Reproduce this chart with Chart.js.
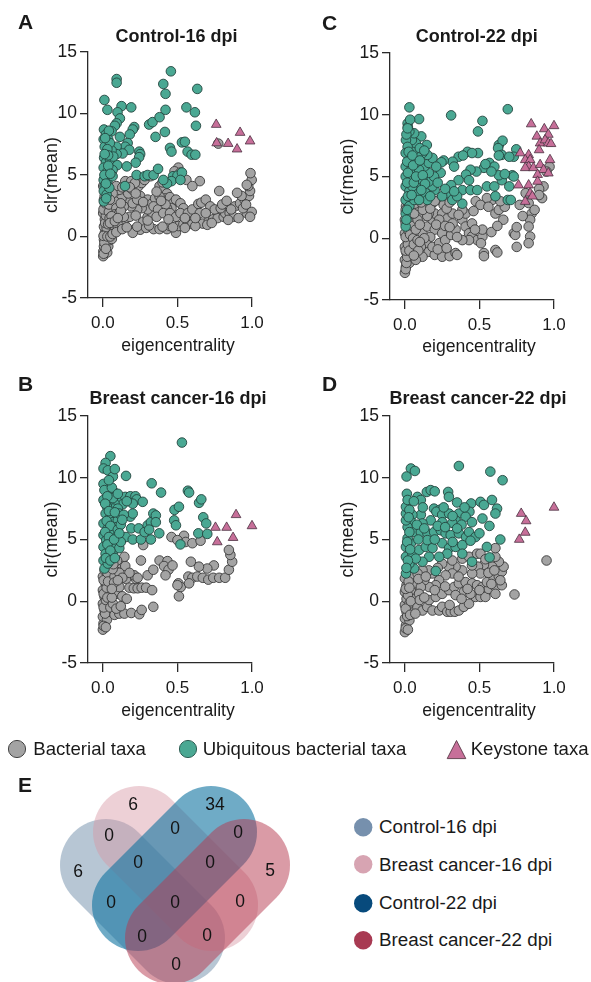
<!DOCTYPE html>
<html><head><meta charset="utf-8">
<script src="https://cdn.jsdelivr.net/npm/chart.js@4.4.1/dist/chart.umd.min.js"></script>
<style>
html,body{margin:0;padding:0;background:#fff;}
#wrap{position:relative;width:591px;height:982px;overflow:hidden;font-family:'Liberation Sans',Arial,Helvetica,sans-serif;color:#1a1a1a;}
canvas{position:absolute;}
svg{position:absolute;overflow:visible;}
.t{position:absolute;white-space:nowrap;line-height:1;transform:translate(-50%,-50%);}
.l{position:absolute;white-space:nowrap;line-height:1;transform:translate(0,-50%);}
.b{font-weight:bold;}
.let{font-size:21px;font-weight:bold;}
.ttl{font-size:18px;font-weight:bold;}
.xt{font-size:17.6px;}
.lg{font-size:18.6px;}
.vl{font-size:18.8px;}
</style></head><body>
<div id="wrap">
<canvas id="cA" width="300" height="360" style="left:0;top:0"></canvas>
<canvas id="cC" width="291" height="362" style="left:300px;top:0"></canvas>
<canvas id="cB" width="300" height="340" style="left:0;top:365px"></canvas>
<canvas id="cD" width="291" height="340" style="left:300px;top:365px"></canvas>
<canvas id="cV" width="350" height="212" style="left:0;top:770px"></canvas>

<div class="t let" style="left:25.5px;top:21px">A</div>
<div class="t let" style="left:329.5px;top:21.5px">C</div>
<div class="t let" style="left:25.5px;top:383px">B</div>
<div class="t let" style="left:329.5px;top:383px">D</div>
<div class="t let" style="left:25px;top:783.5px">E</div>

<div class="t ttl" id="tA" style="left:176.5px;top:35.5px"></div>
<div class="t ttl" id="tC" style="left:476.7px;top:35.5px"></div>
<div class="t ttl" id="tB" style="left:178px;top:398.3px"></div>
<div class="t ttl" id="tD" style="left:478px;top:398.3px"></div>

<div class="t xt xtitle" style="left:178px;top:345.6px"></div>
<div class="t xt xtitle" style="left:479px;top:346.5px"></div>
<div class="t xt xtitle" style="left:178px;top:710.5px"></div>
<div class="t xt xtitle" style="left:479px;top:710.5px"></div>

<svg style="left:8px;top:740px" width="18" height="18"><circle cx="9" cy="9" r="8.6" fill="#a3a3a3" stroke="#444" stroke-width="1"/></svg>
<div class="l lg" id="lg0" style="left:33.3px;top:748.5px"></div>
<svg style="left:179px;top:740px" width="18" height="18"><circle cx="9" cy="9" r="8.6" fill="#4aa893" stroke="#2f5f55" stroke-width="1"/></svg>
<div class="l lg" id="lg1" style="left:202.7px;top:748.5px"></div>
<svg style="left:447px;top:740px" width="19" height="19"><polygon points="9.5,0.5 18.8,18.6 0.2,18.6" fill="#c76f99" stroke="#5a3a48" stroke-width="0.9"/></svg>
<div class="l lg" id="lg2" style="left:470.7px;top:748.5px"></div>

<svg style="left:353.5px;top:817.5px" width="18.4" height="18.4"><circle cx="9.2" cy="9.2" r="9.2" fill="#7690ad"/></svg>
<svg style="left:353.5px;top:855px" width="18.4" height="18.4"><circle cx="9.2" cy="9.2" r="9.2" fill="#d7a4b2"/></svg>
<svg style="left:353.5px;top:893.5px" width="18.4" height="18.4"><circle cx="9.2" cy="9.2" r="9.2" fill="#074a7c"/></svg>
<svg style="left:353.5px;top:930.5px" width="18.4" height="18.4"><circle cx="9.2" cy="9.2" r="9.2" fill="#a83a52"/></svg>
<div class="l vl" id="vl0" style="left:379px;top:827px"></div>
<div class="l vl" id="vl1" style="left:379px;top:864.5px"></div>
<div class="l vl" id="vl2" style="left:379px;top:903px"></div>
<div class="l vl" id="vl3" style="left:379px;top:940px"></div>
</div>

<script>
// ---------------- DATA ----------------
const panelTitles = ['Control-16 dpi', 'Control-22 dpi', 'Breast cancer-16 dpi', 'Breast cancer-22 dpi'];
const seriesNames = ['Bacterial taxa', 'Ubiquitous bacterial taxa', 'Keystone taxa'];
const xAxisTitle = 'eigencentrality';
const yAxisTitle = 'clr(mean)';
const xTicks = [0, 0.5, 1.0];
const yTicks = [-5, 0, 5, 10, 15];

// Control-16 dpi
const c16Bact = [[0.002,-1.6],[0.003,-1.2],[0.007,-0.8],[0.007,-0.25],[0.013,0.3],[0.007,0.8],[0.013,1.4],[0.002,1.9],[0.013,2.45],[0.007,3.0],[0.025,3.5],[0.002,4.1],[0.02,4.6],[0.029,-1.3],[0.036,-0.8],[0.043,-0.3],[0.029,0.27],[0.025,0.7],[0.005,-1.4],[0.01,-0.5],[0.004,0.05],[0.015,1.1],[0.02,1.7],[0.004,2.2],[0.016,2.7],[0.012,3.3],[0.015,3.9],[0.02,-1.0],[0.03,0.0],[0.035,1.0],[0.04,2.0],[0.04,2.6],[0.045,1.5],[0.03,4.3],[0.05,3.8],
[0.06,-0.2],[0.07,0.3],[0.08,0.55],[0.10,0.8],[0.12,1.1],[0.15,1.4],[0.18,1.6],[0.21,0.55],[0.25,0.55],[0.2,0.3],[0.27,1.2],[0.3,1.6],[0.33,1.9],[0.3,2.2],[0.26,2.3],[0.23,2.2],[0.19,2.45],[0.16,3.0],[0.125,3.1],[0.08,2.85],[0.09,2.3],[0.08,1.8],[0.11,1.9],[0.14,2.45],[0.17,3.5],[0.2,3.8],[0.24,4.1],[0.26,4.35],[0.28,4.6],[0.32,4.9],[0.15,4.5],[0.11,3.8],[0.09,4.1],[0.065,3.5],[0.047,3.0],[0.058,1.65],[0.047,1.1],[0.08,1.25],[0.19,4.5],[0.215,4.35],[0.25,3.3],[0.3,3.0],[0.33,2.7],[0.35,3.1],[0.34,2.45],[0.37,2.2],
[0.05,0.0],[0.065,0.2],[0.09,0.35],[0.13,0.6],[0.16,0.75],[0.23,0.8],[0.14,1.6],[0.12,2.1],[0.1,1.5],[0.22,1.7],[0.2,2.7],[0.13,4.0],[0.18,4.0],[0.23,3.0],[0.27,2.8],[0.22,3.5],[0.12,2.7],
[0.38,4.1],[0.405,3.8],[0.43,3.5],[0.42,3.1],[0.44,2.85],[0.38,3.25],[0.36,3.65],[0.45,3.2],[0.47,2.7],[0.46,2.3],[0.43,2.3],[0.49,3.0],[0.52,2.7],[0.54,2.3],[0.506,5.6],[0.48,5.3],[0.56,4.6],[0.65,4.5],[0.6,4.1],[0.52,5.2],[0.4,4.4],[0.42,2.6],[0.39,2.9],
[0.29,0.7],[0.34,0.6],[0.38,0.6],[0.43,0.6],[0.45,0.85],[0.49,0.3],[0.506,0.85],[0.54,1.0],[0.57,1.05],[0.6,1.0],[0.64,1.1],[0.67,1.05],[0.71,1.25],[0.74,1.4],[0.77,1.5],[0.81,1.6],[0.82,1.9],[0.85,1.9],[0.875,1.6],[0.885,2.45],[0.92,2.7],[0.95,3.0],[0.98,3.3],[0.987,3.7],[0.975,4.1],[0.998,4.6],[0.99,5.15],[0.965,4.2],[0.93,3.3],[0.9,3.55],[0.965,1.9],[0.998,2.0],[0.987,1.6],[0.91,1.5],
[0.36,1.6],[0.405,1.9],[0.45,1.9],[0.49,1.6],[0.52,1.9],[0.57,1.9],[0.6,2.2],[0.64,2.65],[0.66,2.75],[0.69,3.0],[0.72,2.45],[0.75,2.2],[0.79,2.3],[0.78,3.7],[0.65,1.9],[0.69,1.9],[0.774,7.55],
[0.31,0.9],[0.4,0.8],[0.47,0.75],[0.55,0.7],[0.62,0.85],[0.7,0.95],[0.73,1.1],[0.84,1.35],[0.86,2.2],[0.94,2.3],[0.96,2.6],[0.8,2.6],[0.83,2.9],[0.62,1.5],[0.55,1.5],[0.44,1.4],[0.3,1.3]];
const c16Ubiq = [[0.456,13.43],[0.092,12.8],[0.092,12.5],[0.405,12.4],[0.42,11.6],[0.633,12.0],[0.01,11.1],[0.03,10.3],[0.125,10.6],[0.19,10.5],[0.42,10.3],[0.56,10.5],[0.617,10.1],[0.098,10.1],[0.114,9.6],[0.092,9.2],[0.08,9.0],[0.31,9.1],[0.333,9.3],[0.38,9.7],[0.624,9.0],[0.21,8.9],[0.2,8.7],[0.058,8.55],[0.114,8.1],[0.18,8.3],[0.353,8.1],[0.416,8.5],
[0.166,7.6],[0.15,7.3],[0.092,7.3],[0.177,7.05],[0.45,7.2],[0.46,6.9],[0.53,7.65],[0.55,7.7],[0.568,6.9],[0.595,6.65],[0.62,6.65],[0.244,6.9],[0.25,6.7],[0.243,6.45],[0.132,6.75],[0.092,6.7],[0.22,6.0],[0.096,5.8],[0.16,5.7],[0.065,5.4],[0.226,5.0],[0.28,4.9],[0.3,5.0],[0.34,5.0],[0.37,5.5],[0.47,4.9],[0.5,4.95],[0.53,5.2],[0.46,4.5],[0.52,4.6],[0.43,4.3],[0.405,4.6],[0.148,4.1],
[0.007,8.7],[0.02,8.3],[0.005,7.9],[0.036,7.9],[0.012,7.3],[0.028,6.9],[0.008,6.4],[0.02,6.0],[0.005,5.6],[0.025,5.2],[0.005,4.6],[0.03,4.5],[0.012,4.1],[0.006,3.7],[0.025,3.4],[0.006,2.85],[0.047,6.25],[0.058,7.0],[0.047,7.6],[0.04,8.6],[0.07,6.5],[0.065,4.9],[0.036,5.75],[0.043,3.95],[0.015,8.0],[0.03,7.1],[0.01,5.0],[0.02,4.3],[0.035,6.6],[0.012,6.7],[0.05,5.1],[0.022,3.1]];
const c16Key = [[0.76,9.1],[0.763,7.6],[0.84,7.55],[0.9,7.1],[0.92,8.45],[0.987,7.75]];

// Control-22 dpi
const c22Bact = [[0.0,-2.8],[0.007,-2.3],[0.0,-1.75],[0.011,-1.2],[0.0,-0.7],[0.018,-0.15],[0.0,0.4],[0.011,0.95],[0.0,1.5],[0.018,2.0],[0.007,2.6],[0.03,-2.0],[0.04,-1.5],[0.05,-0.8],[0.073,-1.2],[0.04,-0.15],[0.005,-2.5],[0.01,-2.0],[0.015,-1.5],[0.005,-1.0],[0.02,-0.5],[0.005,0.1],[0.025,0.6],[0.005,1.2],[0.03,1.7],[0.005,2.3],[0.02,2.9],[0.03,-1.0],[0.035,0.3],[0.04,1.2],[0.045,2.4],[0.055,0.0],[0.06,-0.5],[0.055,1.0],
[0.085,-0.15],[0.118,0.4],[0.15,0.95],[0.185,1.5],[0.2,2.0],[0.16,2.0],[0.118,1.75],[0.085,1.5],[0.073,0.7],[0.062,2.0],[0.095,2.6],[0.14,2.6],[0.185,2.85],[0.23,3.1],[0.26,2.7],[0.25,2.0],[0.285,1.6],[0.23,1.5],[0.2,0.7],[0.25,0.4],[0.17,0.1],[0.14,-0.4],[0.107,-0.7],[0.16,-1.1],[0.2,-1.35],[0.25,-1.5],[0.3,-1.45],[0.34,-1.2],[0.35,-1.35],[0.118,-1.5],[0.073,-1.75],[0.185,-0.7],[0.23,-0.4],[0.27,-0.15],[0.31,0.27],[0.34,0.7],[0.32,1.2],[0.385,1.5],[0.407,0.95],[0.43,0.4],[0.45,0.14],[0.485,-0.15],[0.52,0.14],[0.43,-0.15],[0.385,-0.15],[0.407,2.0],[0.385,2.3],[0.52,0.7],[0.51,-0.4],[0.53,-1.2],[0.53,-1.45],[0.607,-0.95],[0.62,-1.15],[0.607,2.0],[0.63,2.3],[0.67,2.55],[0.66,1.5],[0.585,3.1],[0.64,3.0],[0.55,3.25],[0.73,0.4],[0.74,0.27],[0.75,-0.7],[0.81,3.65],[0.83,2.85],[0.85,2.0],[0.84,1.5],[0.83,0.95],[0.84,0.14],[0.83,-0.4],[0.87,2.3],[0.92,3.25],[0.93,4.2],[0.97,5.8],[0.95,5.4],[0.9,4.0],[0.32,2.0],[0.475,3.0],[0.507,2.7],[0.56,2.55],
[0.1,1.1],[0.13,0.0],[0.09,-1.0],[0.15,1.8],[0.12,2.3],[0.21,1.1],[0.17,2.4],[0.27,1.0],[0.22,-0.9],[0.28,-0.8],[0.35,0.1],[0.3,0.9],[0.36,1.9],[0.28,2.4],[0.45,1.2],[0.47,0.7],[0.1,-0.3],[0.06,-1.4],[0.065,2.8],[0.11,2.9],[0.2,3.0],[0.3,2.9],[0.46,2.2],[0.58,0.5],[0.75,0.9],[0.79,1.8],[0.77,2.7],[0.9,3.5],[0.62,1.0]];
const c22Ubiq = [[0.03,10.6],[0.69,10.45],[0.31,9.95],[0.52,9.5],[0.49,8.65],[0.095,9.65],[0.018,9.3],[0.11,8.25],[0.147,7.55],[0.63,7.55],[0.655,7.9],[0.625,7.3],[0.747,7.2],[0.65,6.75],[0.73,6.6],[0.7,6.6],[0.63,6.7],[0.42,7.0],[0.49,6.9],[0.45,6.9],[0.36,6.6],[0.32,6.2],[0.26,6.3],[0.245,6.15],[0.33,5.8],[0.567,6.1],[0.6,5.8],[0.53,5.7],[0.48,5.4],[0.44,5.55],[0.41,5.15],[0.36,4.7],[0.31,4.3],[0.24,5.3],[0.285,3.65],[0.318,3.1],[0.385,3.9],[0.44,3.9],[0.485,3.9],[0.43,4.7],[0.55,4.2],[0.6,4.2],[0.65,4.7],[0.72,5.1],[0.7,4.2],[0.69,3.1],[0.71,3.1],[0.73,5.0],[0.607,3.4],[0.63,5.1],[0.385,2.8],[0.35,3.4],[0.33,3.8],[0.25,3.4],[0.2,3.9],[0.185,4.2],[0.16,4.6],[0.195,5.0],[0.16,5.3],[0.13,5.8],[0.16,6.1],[0.185,6.5],[0.15,6.75],[0.118,6.9],[0.085,6.6],[0.062,7.15],[0.073,7.7],[0.047,7.95],[0.062,8.5],[0.03,8.65],[0.007,7.95],[0.018,7.4],[0.005,6.9],[0.03,6.35],[0.005,5.8],[0.04,5.5],[0.005,5.0],[0.04,4.7],[0.005,4.2],[0.03,3.8],[0.005,3.1],[0.03,2.6],[0.005,2.0],[0.005,0.95],[0.062,5.3],[0.085,4.7],[0.107,4.2],[0.085,3.65],[0.062,3.1],[0.05,4.2],[0.095,5.55],[0.073,6.1],[0.118,4.7],[0.14,3.65],[0.15,3.1],[0.095,3.1],
[0.02,9.0],[0.01,8.4],[0.025,7.0],[0.015,6.2],[0.02,5.3],[0.015,4.5],[0.02,3.4],[0.015,2.3],[0.01,1.5],[0.05,6.7],[0.055,5.9],[0.06,4.5],[0.075,5.0],[0.1,6.3],[0.12,5.1],[0.135,4.4],[0.1,7.3],[0.13,7.1],[0.045,3.5],[0.11,3.9],[0.17,3.4],[0.22,4.5],[0.27,4.0],[0.21,5.8],[0.54,6.0],[0.58,5.4],[0.67,5.2],[0.39,6.7],[0.035,9.6],[0.018,8.9]];
const c22Key = [[0.847,9.25],[0.885,8.25],[0.935,8.85],[1.0,9.1],[0.962,8.4],[0.907,7.7],[0.94,7.95],[0.962,7.7],[0.98,7.65],[0.9,7.15],[0.773,6.9],[0.83,6.75],[0.807,6.35],[0.84,6.35],[0.83,5.8],[0.807,5.7],[0.862,5.7],[0.907,5.95],[0.973,6.35],[0.93,5.55],[0.962,5.27],[0.89,5.15],[0.89,4.6],[0.83,4.3],[0.762,4.3],[0.84,3.65],[0.807,2.97],[0.855,3.4]];

// Breast cancer-16 dpi
const bc16Bact = [[0.0,-2.3],[0.004,-1.8],[0.0,-1.25],[0.011,-0.75],[0.0,-0.2],[0.011,0.35],[0.0,0.9],[0.018,1.45],[0.0,2.0],[0.011,2.5],[0.027,-1.5],[0.033,-0.85],[0.04,-0.2],[0.044,0.6],[0.055,1.3],[0.044,2.0],[0.005,-2.0],[0.015,-1.0],[0.005,-0.5],[0.02,0.1],[0.005,0.6],[0.025,1.1],[0.005,1.7],[0.03,2.3],[0.02,-2.1],[0.03,0.3],[0.035,1.6],[0.05,-0.5],
[0.078,-1.1],[0.11,-1.0],[0.144,-1.0],[0.19,-0.95],[0.244,-1.05],[0.26,-0.7],[0.338,-0.45],[0.067,-0.2],[0.1,0.6],[0.11,1.15],[0.078,2.0],[0.089,2.8],[0.122,3.05],[0.15,2.85],[0.144,3.6],[0.11,2.3],[0.155,1.8],[0.178,1.1],[0.207,1.05],[0.233,1.05],[0.26,1.1],[0.29,1.1],[0.33,0.9],[0.222,1.8],[0.21,2.1],[0.233,1.9],[0.178,2.3],[0.255,3.3],[0.27,4.55],[0.3,2.1],[0.338,2.55],[0.38,3.3],[0.433,3.25],[0.41,2.85],[0.44,2.55],[0.467,2.9],[0.506,1.45],[0.522,1.15],[0.51,0.4],[0.573,2.0],[0.6,1.9],[0.633,2.0],[0.67,1.9],[0.707,1.75],[0.74,1.9],[0.78,1.9],[0.82,1.9],[0.845,2.55],[0.867,3.2],[0.855,3.75],[0.845,4.15],[0.744,2.9],[0.7,2.65],[0.644,2.8],[0.59,3.2],[0.544,5.3],[0.555,4.8],[0.6,4.7],[0.655,4.9],[0.46,5.2],[0.5,4.95],[0.42,2.1],[0.578,1.45],[0.5,1.3],
[0.06,0.3],[0.075,1.5],[0.09,-0.6],[0.065,2.6],[0.13,0.4],[0.13,1.9],[0.16,0.2],[0.12,-0.4],[0.095,3.3],[0.07,3.0],[0.06,1.0],[0.1,1.7]];
const bc16Ubiq = [[0.53,12.85],[0.05,11.75],[0.018,11.2],[0.004,10.75],[0.033,10.6],[0.067,10.1],[0.155,10.15],[0.327,9.55],[0.39,8.8],[0.57,8.95],[0.578,8.8],[0.004,9.5],[0.044,8.9],[0.078,8.8],[0.122,8.3],[0.15,8.45],[0.184,8.5],[0.218,8.5],[0.227,8.25],[0.267,8.05],[0.133,7.85],[0.078,7.9],[0.067,7.5],[0.1,7.5],[0.184,6.85],[0.2,7.1],[0.19,5.9],[0.24,5.9],[0.155,5.2],[0.2,5.0],[0.255,5.0],[0.3,6.15],[0.322,6.4],[0.338,7.1],[0.355,6.95],[0.355,6.4],[0.322,5.0],[0.378,5.5],[0.48,7.4],[0.51,7.65],[0.478,6.55],[0.49,6.15],[0.52,4.6],[0.645,7.97],[0.66,8.25],[0.673,6.8],[0.693,6.3],[0.64,5.5],[0.7,5.45],[0.004,8.2],[0.027,7.65],[0.018,7.1],[0.044,6.7],[0.004,6.3],[0.033,5.9],[0.004,5.35],[0.022,4.95],[0.004,4.4],[0.018,3.85],[0.004,3.3],[0.011,2.65],[0.067,6.4],[0.1,6.55],[0.089,6.0],[0.067,5.6],[0.089,5.2],[0.056,4.7],[0.089,4.4],[0.067,3.85],[0.11,7.1],[0.11,4.3],[0.044,3.6],[0.033,3.05],[0.12,4.8],[0.067,8.35],
[0.01,9.0],[0.03,8.5],[0.015,7.9],[0.04,7.3],[0.025,6.5],[0.05,6.1],[0.015,5.6],[0.04,5.2],[0.03,4.6],[0.05,4.1],[0.02,3.5],[0.08,7.2],[0.1,5.8],[0.075,5.0],[0.12,6.2],[0.14,7.0],[0.06,9.2],[0.08,10.7],[0.04,9.8],[0.11,5.5],[0.13,6.6],[0.2,7.9],[0.1,8.7],[0.16,8.1],[0.28,5.6],[0.31,5.8],[0.05,3.3],[0.08,3.5]];
const bc16Key = [[0.755,5.97],[0.767,4.8],[0.83,5.97],[0.893,7.0],[0.873,5.15],[1.0,6.1]];

// Breast cancer-22 dpi
const bc22Bact = [[0.0,-2.5],[0.007,-1.95],[0.0,-1.4],[0.011,-0.85],[0.0,-0.3],[0.011,0.2],[0.0,0.75],[0.011,1.3],[0.0,1.85],[0.03,-1.55],[0.04,-0.85],[0.03,-0.2],[0.05,0.35],[0.04,0.89],[0.062,1.45],[0.05,2.0],[0.005,-2.2],[0.015,-1.2],[0.005,-0.6],[0.02,0.5],[0.005,1.0],[0.025,1.6],[0.02,-2.3],[0.035,-1.1],[0.04,0.0],[0.03,1.1],
[0.084,-0.5],[0.118,-0.75],[0.15,-0.45],[0.185,-0.75],[0.23,-0.75],[0.25,-0.45],[0.284,-0.85],[0.307,-0.85],[0.335,-0.85],[0.362,-0.75],[0.395,-0.45],[0.43,-0.2],[0.473,0.35],[0.507,0.35],[0.54,0.35],[0.162,0.1],[0.207,0.35],[0.25,0.6],[0.296,0.9],[0.33,1.15],[0.362,1.45],[0.407,1.55],[0.451,1.45],[0.484,1.3],[0.518,1.15],[0.562,1.0],[0.607,1.15],[0.65,1.3],[0.607,0.6],[0.55,1.55],[0.596,1.85],[0.63,2.0],[0.65,2.4],[0.662,2.8],[0.63,3.2],[0.585,2.8],[0.53,2.95],[0.49,2.8],[0.507,2.25],[0.451,2.25],[0.385,2.5],[0.34,2.8],[0.296,2.8],[0.318,2.25],[0.273,2.1],[0.229,1.7],[0.207,1.3],[0.162,1.15],[0.13,1.7],[0.107,1.15],[0.095,0.6],[0.184,2.25],[0.16,2.5],[0.118,2.5],[0.085,2.25],[0.25,3.05],[0.318,3.3],[0.385,3.45],[0.43,3.6],[0.484,3.85],[0.507,3.85],[0.607,3.6],[0.607,4.3],[0.735,0.55],[0.95,3.3],[0.395,0.75],[0.44,0.6],[0.34,0.5],
[0.07,-1.0],[0.1,0.1],[0.13,0.3],[0.09,1.8],[0.14,2.0],[0.2,0.9],[0.27,1.2],[0.38,0.2],[0.42,1.0],[0.5,0.9],[0.56,2.3],[0.58,1.4],[0.64,1.7],[0.3,-0.3],[0.22,2.7],[0.36,2.0],[0.45,2.9],[0.54,3.4],[0.6,2.5]];
const bc22Ubiq = [[0.362,10.95],[0.573,10.5],[0.655,9.8],[0.04,10.75],[0.067,10.55],[0.011,10.1],[0.147,8.85],[0.173,9.0],[0.29,8.85],[0.295,8.45],[0.084,8.45],[0.107,8.2],[0.013,8.7],[0.35,8.0],[0.444,7.92],[0.433,7.25],[0.507,8.05],[0.53,7.8],[0.584,8.2],[0.618,7.5],[0.607,7.1],[0.195,7.5],[0.233,7.4],[0.211,7.25],[0.25,7.0],[0.296,7.1],[0.362,7.1],[0.407,6.85],[0.34,6.55],[0.318,6.35],[0.251,6.4],[0.173,6.55],[0.107,7.0],[0.118,6.3],[0.05,7.0],[0.04,6.45],[0.018,6.0],[0.062,5.6],[0.107,5.6],[0.151,5.5],[0.196,5.6],[0.24,5.75],[0.273,5.5],[0.307,5.35],[0.362,5.5],[0.41,5.2],[0.43,5.6],[0.473,5.2],[0.567,6.1],[0.64,5.0],[0.55,4.4],[0.568,3.55],[0.45,3.2],[0.207,2.45],[0.007,2.25],[0.062,2.65],[0.03,3.05],[0.007,3.6],[0.05,3.85],[0.095,4.15],[0.14,4.4],[0.185,4.3],[0.25,4.7],[0.296,4.3],[0.34,4.4],[0.385,4.55],[0.04,4.7],[0.018,5.1],[0.007,4.4],[0.007,6.55],[0.007,7.1],[0.007,7.65],[0.018,8.2],[0.162,3.6],[0.118,3.2],[0.284,3.85],[0.385,3.85],[0.073,3.45],[0.15,4.95],
[0.03,7.4],[0.025,6.8],[0.03,5.6],[0.015,4.8],[0.035,4.2],[0.02,3.3],[0.01,2.7],[0.08,6.2],[0.09,5.0],[0.13,5.9],[0.2,5.0],[0.22,6.1],[0.27,6.0],[0.32,6.9],[0.38,6.2],[0.45,6.4],[0.5,5.5],[0.52,6.7],[0.4,7.6],[0.26,7.6],[0.35,5.9],[0.23,3.6],[0.32,4.8],[0.44,4.9],[0.12,7.6],[0.06,8.1],[0.2,8.9]];
const bc22Key = [[0.78,7.1],[0.813,6.5],[0.807,5.57],[0.767,5.0],[1.0,7.6]];

// Venn (E): sets and region counts (region key = member set indices, 1-based)
const vennSets = ['Control-16 dpi', 'Breast cancer-16 dpi', 'Control-22 dpi', 'Breast cancer-22 dpi'];
const vennRegions = ['1','2','3','4','12','13','14','23','24','34','123','124','134','234','1234'];
const vennCounts  = [6, 6, 34, 5, 0, 0, 0, 0, 0, 0, 0, 0, 0, 0, 0];

// ---------------- STYLE / LAYOUT ----------------
Chart.defaults.font.family = "'Liberation Sans', Arial, Helvetica, sans-serif";
Chart.defaults.color = '#1a1a1a';
const GRAY = '#a3a3a3', TEAL = '#4aa893', PINK = '#c76f99', EDGE = '#3a3a3a', AX = '#2a2a2a';

document.getElementById('tA').textContent = panelTitles[0];
document.getElementById('tC').textContent = panelTitles[1];
document.getElementById('tB').textContent = panelTitles[2];
document.getElementById('tD').textContent = panelTitles[3];
document.querySelectorAll('.xtitle').forEach(e => e.textContent = xAxisTitle);
seriesNames.forEach((n, i) => document.getElementById('lg' + i).textContent = n);
vennSets.forEach((n, i) => document.getElementById('vl' + i).textContent = n);

const toXY = arr => arr.map(p => ({x: p[0], y: p[1]}));

function makePanel(id, bact, ubiq, key, L) {
  return new Chart(document.getElementById(id), {
    type: 'scatter',
    data: { datasets: [
      { label: seriesNames[2], data: toXY(key), order: 0, pointStyle: 'triangle', pointRadius: 5.6,
        backgroundColor: PINK, borderColor: '#4a3040', borderWidth: 0.8, clip: false },
      { label: seriesNames[1], data: toXY(ubiq), order: 1, pointRadius: 4.8,
        backgroundColor: TEAL, borderColor: '#24453e', borderWidth: 0.9, clip: false },
      { label: seriesNames[0], data: toXY(bact), order: 2, pointRadius: 4.8,
        backgroundColor: GRAY, borderColor: EDGE, borderWidth: 0.9, clip: false }
    ]},
    options: {
      responsive: false, animation: false, events: [],
      layout: { padding: { top: L.top, right: L.right, bottom: L.bottom, left: 0 } },
      plugins: { legend: { display: false }, tooltip: { enabled: false } },
      scales: {
        x: {
          type: 'linear', min: -0.1, max: 1.0,
          afterBuildTicks: s => { s.ticks = xTicks.map(v => ({ value: v })); },
          afterFit: s => { s.height = 30; },
          grid: { drawOnChartArea: false, drawTicks: true, tickLength: 9, color: AX, lineWidth: 1.3 },
          border: { display: true, color: AX, width: 1.3 },
          ticks: { callback: v => Number(v).toFixed(1), padding: 6, color: '#1a1a1a',
                   font: { size: 17 }, maxRotation: 0, autoSkip: false }
        },
        y: {
          type: 'linear', min: -5, max: 15,
          afterBuildTicks: s => { s.ticks = yTicks.map(v => ({ value: v })); },
          afterFit: s => { s.width = L.yw; },
          title: { display: true, text: yAxisTitle, color: '#1a1a1a', font: { size: 18 },
                   padding: { top: L.tpad, bottom: 0 } },
          grid: { drawOnChartArea: false, drawTicks: true, tickLength: 8, color: AX, lineWidth: 1.3 },
          border: { display: true, color: AX, width: 1.3 },
          ticks: { callback: v => String(v), padding: 3, color: '#1a1a1a', font: { size: 17.5 }, autoSkip: false }
        }
      }
    }
  });
}

makePanel('cA', c16Bact,  c16Ubiq,  c16Key,  { top: 52, right: 48, bottom: 32, yw: 88, tpad: 41 });
makePanel('cC', c22Bact,  c22Ubiq,  c22Key,  { top: 53, right: 37, bottom: 32, yw: 90, tpad: 37.5 });
makePanel('cB', bc16Bact, bc16Ubiq, bc16Key, { top: 51, right: 48, bottom: 12, yw: 88, tpad: 41 });
makePanel('cD', bc22Bact, bc22Ubiq, bc22Key, { top: 51, right: 37, bottom: 12, yw: 90, tpad: 37.5 });

// Venn geometry in a local coordinate system (origin = diagram centre, y up)
const VENN_SHAPES = [
  { a: [-69, 38], b: [4, -35],  r: 46, color: 'rgba(112,142,170,0.5)' },
  { a: [-36, 71], b: [37, -2],  r: 46, color: 'rgba(214,150,165,0.45)' },
  { a: [36, 71],  b: [-37, -2], r: 46, color: 'rgba(15,115,160,0.6)' },
  { a: [69, 38],  b: [-4, -35], r: 46, color: 'rgba(182,55,78,0.5)' }
];
const VENN_LABEL_POS = {
  '1': [-97, 31], '2': [-42, 98], '3': [40, 98], '4': [95, 32],
  '12': [-66, 67], '23': [0, 74], '34': [63, 70],
  '123': [-37, 40], '234': [35, 40],
  '13': [-64, 0], '1234': [0, 0], '24': [65, 1],
  '134': [-33, -34], '124': [32, -33], '14': [1, -62]
};
const vennPlugin = {
  id: 'vennShapes',
  afterDatasetsDraw(chart) {
    const { ctx, scales: { x, y } } = chart;
    const unit = Math.abs(x.getPixelForValue(1) - x.getPixelForValue(0));
    ctx.save();
    VENN_SHAPES.forEach(s => {
      ctx.beginPath();
      ctx.moveTo(x.getPixelForValue(s.a[0]), y.getPixelForValue(s.a[1]));
      ctx.lineTo(x.getPixelForValue(s.b[0]), y.getPixelForValue(s.b[1]));
      ctx.lineWidth = 2 * s.r * unit;
      ctx.lineCap = 'round';
      ctx.strokeStyle = s.color;
      ctx.stroke();
    });
    ctx.fillStyle = '#141414';
    ctx.font = "17.5px 'Liberation Sans', Arial, sans-serif";
    ctx.textAlign = 'center';
    ctx.textBaseline = 'middle';
    vennRegions.forEach((r, i) => {
      const p = VENN_LABEL_POS[r];
      ctx.fillText(String(vennCounts[i]), x.getPixelForValue(p[0]), y.getPixelForValue(p[1]));
    });
    ctx.restore();
  }
};
new Chart(document.getElementById('cV'), {
  type: 'scatter',
  data: { datasets: [{ data: [] }] },
  options: {
    responsive: false, animation: false, events: [],
    layout: { padding: 0 },
    plugins: { legend: { display: false }, tooltip: { enabled: false } },
    scales: {
      x: { type: 'linear', min: -175, max: 175, display: false },
      y: { type: 'linear', min: -79, max: 133, display: false }
    }
  },
  plugins: [vennPlugin]
});
</script>
</body></html>
